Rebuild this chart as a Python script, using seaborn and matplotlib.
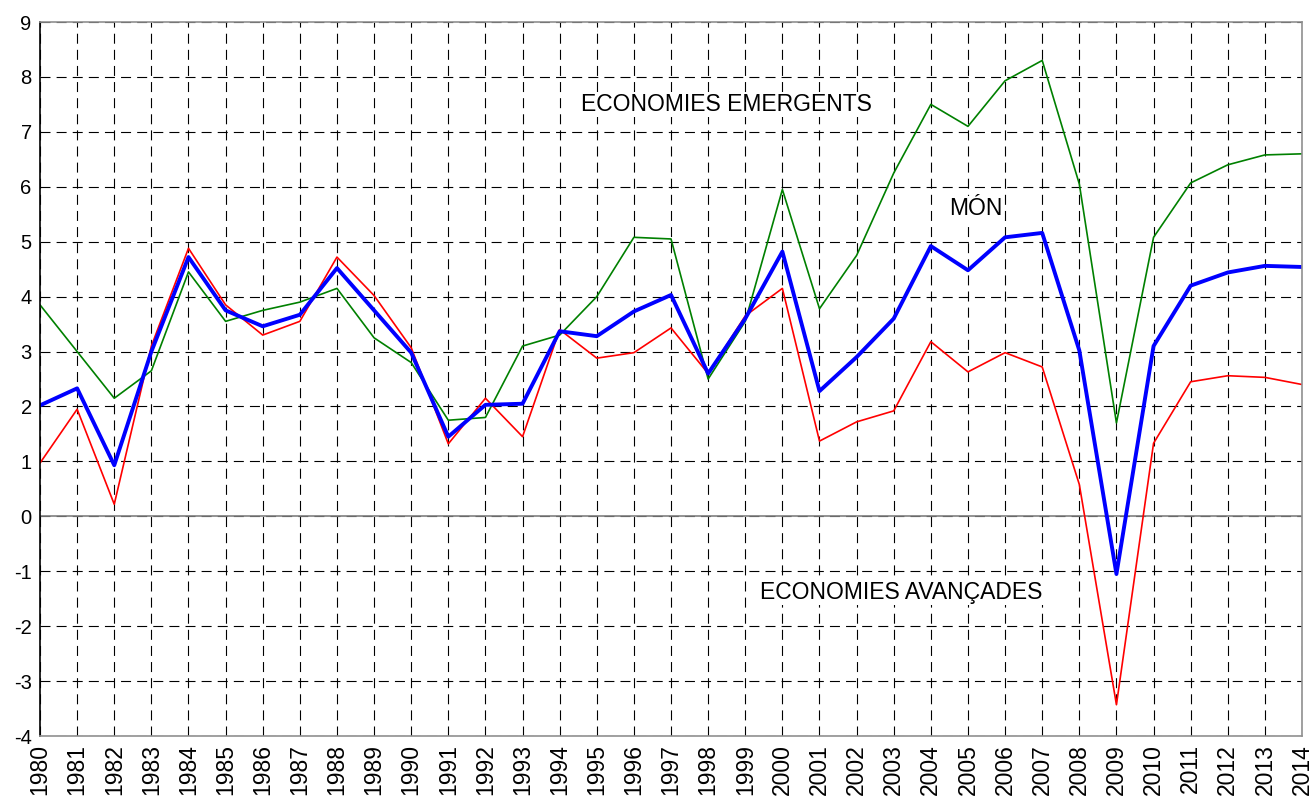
import numpy as np
import pandas as pd
import matplotlib
matplotlib.use("Agg")
import matplotlib.pyplot as plt
import seaborn as sns

years = list(range(1980, 2015))
emergents = [3.85, 3.0, 2.15, 2.65, 4.45, 3.55, 3.75, 3.9, 4.15, 3.25, 2.8, 1.75, 1.8, 3.1, 3.3,
             4.0, 5.08, 5.05, 2.5, 3.55, 5.95, 3.78, 4.75, 6.25, 7.5, 7.1, 7.93, 8.3, 6.05, 1.7,
             5.08, 6.07, 6.4, 6.58, 6.6]
mon = [2.02, 2.33, 0.93, 3.0, 4.72, 3.75, 3.46, 3.67, 4.52, 3.75, 2.98, 1.45, 2.03, 2.05, 3.37,
       3.28, 3.73, 4.03, 2.6, 3.6, 4.82, 2.28, 2.9, 3.6, 4.92, 4.48, 5.08, 5.16, 3.02, -1.05,
       3.1, 4.2, 4.44, 4.56, 4.54]
avancades = [0.97, 1.95, 0.22, 3.1, 4.88, 3.85, 3.3, 3.55, 4.72, 4.02, 3.07, 1.32, 2.15, 1.45, 3.4,
             2.88, 2.98, 3.43, 2.6, 3.65, 4.15, 1.37, 1.72, 1.92, 3.18, 2.63, 2.98, 2.72, 0.58, -3.43,
             1.33, 2.45, 2.56, 2.53, 2.4]

df = pd.DataFrame({"any": years, "emergents": emergents, "mon": mon, "avancades": avancades})

sns.set_style("white")
plt.rcParams['font.family'] = ['Liberation Sans', 'DejaVu Sans']
plt.rcParams['text.color'] = 'black'

fig = plt.figure(figsize=(13.12, 8.06), dpi=100)
ax = fig.add_axes([0.0305, 0.0868, 0.9619, 0.8859])

sns.lineplot(data=df, x="any", y="emergents", color="#008000", linewidth=1.2, ax=ax)
sns.lineplot(data=df, x="any", y="avancades", color="#ff0000", linewidth=1.2, ax=ax)
sns.lineplot(data=df, x="any", y="mon", color="#0000ff", linewidth=2.8, ax=ax)

ax.set_xlim(1980, 2014)
ax.set_ylim(-4, 9)
ax.set_xticks(years)
ax.set_xticklabels([str(y) for y in years], rotation=90, fontsize=16.5)
ax.set_yticks(range(-4, 10))
ax.set_yticklabels([str(v) for v in range(-4, 10)], fontsize=14.5)
ax.set_xlabel("")
ax.set_ylabel("")

ax.grid(True, color="black", linestyle=(0, (9, 5.5)), linewidth=0.8)
ax.set_axisbelow(True)
ax.axhline(0, color="#808080", linewidth=1.2, zorder=1.5)

for s in ["top", "right", "bottom"]:
    ax.spines[s].set_color("#909090")
    ax.spines[s].set_linewidth(1.2)
ax.spines["left"].set_color("black")
ax.spines["left"].set_linewidth(1.2)
ax.tick_params(axis="both", direction="out", length=4, width=0.8, color="black",
               labelcolor="black", pad=2)

box = dict(facecolor="white", edgecolor="none", pad=1)
ax.text(1998.5, 7.5, "ECONOMIES EMERGENTS", fontsize=16.5, ha="center", va="center", bbox=box)
ax.text(2005.2, 5.6, "MÓN", fontsize=16.5, ha="center", va="center", bbox=box)
ax.text(2003.2, -1.38, "ECONOMIES AVANÇADES", fontsize=16.5, ha="center", va="center", bbox=box)

fig.savefig("out.png", dpi=100)
